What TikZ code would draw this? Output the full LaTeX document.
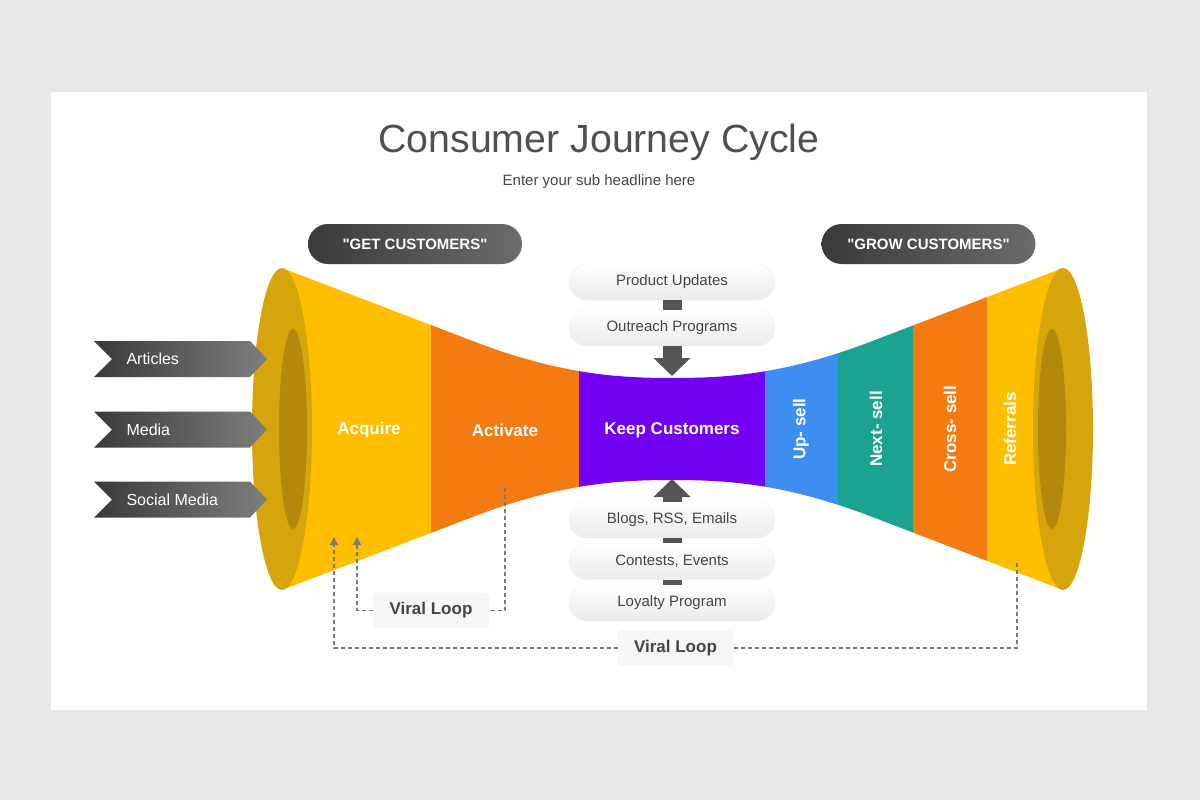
\documentclass[tikz,border=0pt]{standalone}
\usepackage{fontspec}
\setmainfont{Liberation Sans}[Ligatures=TeXOff]
\usetikzlibrary{arrows.meta,calc}
\definecolor{bgc}{HTML}{E9E7E9}
\definecolor{titlec}{HTML}{505050}
\definecolor{txtc}{HTML}{454545}
\definecolor{yel}{HTML}{FFBF00}
\definecolor{rimc}{HTML}{D6A50C}
\definecolor{rimin}{HTML}{B3890D}
\definecolor{orc}{HTML}{F47B12}
\definecolor{purc}{HTML}{7302F2}
\definecolor{bluc}{HTML}{3D8EF0}
\definecolor{teac}{HTML}{1BA392}
\definecolor{darkg}{HTML}{3A3A3A}
\definecolor{lightg}{HTML}{7E7E7E}
\definecolor{conng}{HTML}{555555}
\definecolor{dashc}{HTML}{7A7A7A}
\tikzset{
  darkpill/.style={rounded corners=20pt, minimum width=214pt, minimum height=40pt,
    left color=darkg, right color=lightg!85!black, text=white,
    font=\fontsize{15}{18}\selectfont\bfseries, inner sep=0pt},
  lightpill/.style={rounded corners=18pt, minimum width=206pt, minimum height=36pt,
    top color=white, bottom color=black!8, draw=black!5, text=txtc,
    font=\fontsize{15}{18}\selectfont, inner sep=0pt},
  loopbox/.style={rounded corners=4pt, fill=black!3, draw=black!6, text=txtc,
    font=\fontsize{17}{20}\selectfont\bfseries, inner sep=0pt},
  bandtxt/.style={text=white, font=\fontsize{17}{20}\selectfont\bfseries},
  chevtxt/.style={text=white, font=\fontsize{16}{19}\selectfont, anchor=west},
  chevron/.style={left color=darkg, right color=lightg},
  connbar/.style={line width=19pt, draw=conng},
  bigarrow/.style={line width=19pt, draw=conng, -{Triangle[width=36pt 0, length=18pt 0]}},
  loopdash/.style={draw=dashc, line width=1.3pt, dash pattern=on 4pt off 3pt},
  looparrow/.style={loopdash, -{Triangle[width=8pt 0, length=8pt 0]}}
}
\begin{document}
\begin{tikzpicture}[x=1pt,y=-1pt]
\useasboundingbox (0,0) rectangle (1200,800);
\fill[bgc] (0,0) rectangle (1200,800);
\fill[black!10] (52,93) rectangle (1149,712);
\fill[white] (51,92) rectangle (1147,710);

% titles
\node[font=\fontsize{39.3}{47}\selectfont, text=titlec] (title) at (599,142) {Consumer Journey Cycle};
\node[font=\fontsize{15}{18}\selectfont, text=txtc] (subtitle) at (599,182) {Enter your sub headline here};

\node[darkpill] (get) at (415,244) {"GET CUSTOMERS"};
\node[darkpill] (grow) at (928.5,244) {"GROW CUSTOMERS"};

% funnel body
\def\funnelpath{(282,268) -- (470,340) .. controls (560,375) and (620,378) .. (672.5,378) .. controls (725,378) and (785,375) .. (875,340) -- (1063,268) -- (1063,590) -- (875,518) .. controls (785,483) and (725,480) .. (672.5,480) .. controls (620,480) and (560,483) .. (470,518) -- (282,590) -- cycle}
\begin{scope}
\clip \funnelpath;
\fill[yel] (270,250) rectangle (431,610);
\fill[orc] (431,250) rectangle (579,610);
\fill[purc] (579,250) rectangle (765,610);
\fill[bluc] (765,250) rectangle (838,610);
\fill[teac] (838,250) rectangle (913,610);
\fill[orc] (913,250) rectangle (987,610);
\fill[yel] (987,250) rectangle (1070,610);
\end{scope}
\fill[rimc] (282,429) ellipse [x radius=30, y radius=161];
\fill[rimin] (293,429) ellipse [x radius=14, y radius=100];
\fill[rimc] (1063,429) ellipse [x radius=30, y radius=161];
\fill[rimin] (1052,429) ellipse [x radius=14, y radius=100];

\node[bandtxt] (acq) at (369,430) {Acquire};
\node[bandtxt] (act) at (505,430) {Activate};
\node[bandtxt] (keep) at (672,430) {Keep Customers};
\node[bandtxt, rotate=90] (up) at (801,429) {Up- sell};
\node[bandtxt, rotate=90] (next) at (876,429) {Next- sell};
\node[bandtxt, rotate=90] (cross) at (950,429) {Cross- sell};
\node[bandtxt, rotate=90] (ref) at (1010,429) {Referrals};

% chevrons
\foreach \c/\t/\n in {359/Articles/art, 429.5/Media/med, 499.5/Social Media/soc}{
  \path[chevron] (94,\c-18) -- (250,\c-18) -- (267,\c) -- (250,\c+18) -- (94,\c+18) -- (112,\c) -- cycle;
  \node[chevtxt] (\n) at (123,\c) {\t};
}

% top stack
\node[lightpill] (pu) at (672,282) {Product Updates};
\node[lightpill] (orp) at (672,328) {Outreach Programs};
\draw[connbar] (pu.south) -- (orp.north);
\coordinate (toptip) at (672,376);
\draw[bigarrow] (orp.south) -- (toptip);

% bottom stack
\node[lightpill] (blog) at (672,520) {Blogs, RSS, Emails};
\node[lightpill] (cont) at (672,561.5) {Contests, Events};
\node[lightpill] (loy) at (672,603) {Loyalty Program};
\draw[connbar] (blog.south) -- (cont.north);
\draw[connbar] (cont.south) -- (loy.north);
\coordinate (bottip) at (672,479);
\draw[bigarrow] (blog.north) -- (bottip);

% viral loops
\node[loopbox, minimum width=116pt, minimum height=35pt] (vl1) at (431,610.5) {Viral Loop};
\node[loopbox, minimum width=115pt, minimum height=34pt] (vl2) at (675.5,648) {Viral Loop};
\coordinate (actstart) at (505,488);
\coordinate (acqtip1) at (357,537);
\coordinate (refstart) at (1017,563);
\coordinate (acqtip2) at (334,537);
\draw[loopdash] (actstart) |- (vl1.east);
\draw[looparrow] (vl1.west) -| (acqtip1);
\draw[loopdash] (refstart) |- (vl2.east);
\draw[looparrow] (vl2.west) -| (acqtip2);
\end{tikzpicture}
\end{document}
